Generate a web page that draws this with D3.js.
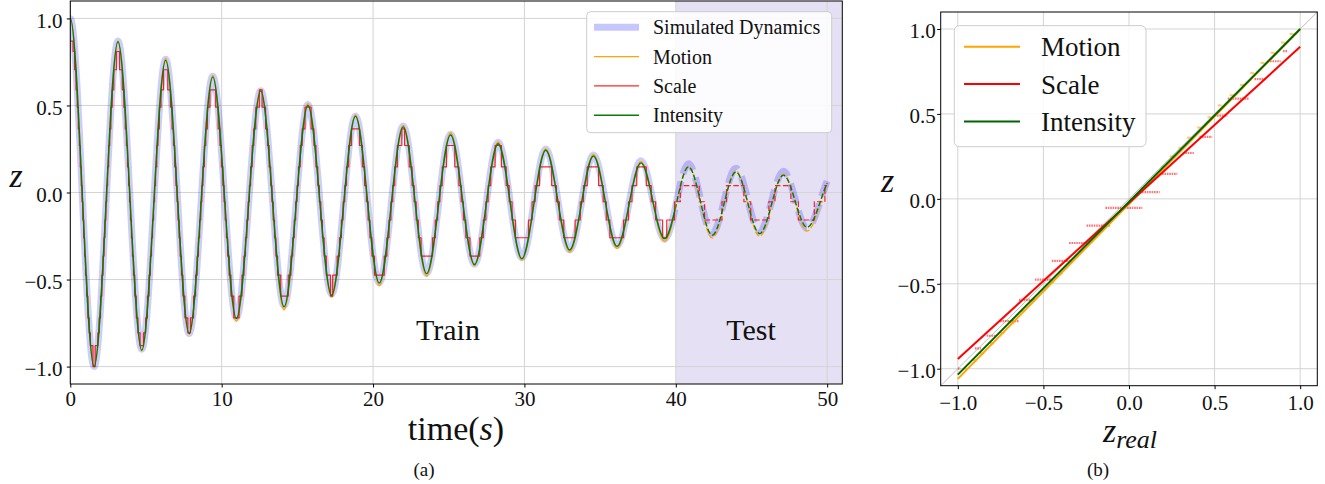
<!DOCTYPE html>
<html>
<head>
<meta charset="utf-8">
<script src="https://cdn.jsdelivr.net/npm/d3@7"></script>
<style>
  body { margin: 0; background: #fff; }
  text { font-family: "Liberation Serif", "DejaVu Serif", serif; fill: #111; }
</style>
</head>
<body>
<script>
// ---------------- DATA ----------------
// Panel (a): extrema times (s) of the oscillation, plus the final sample
const extremaTimes = [0, 1.57, 3.15, 4.72, 6.3, 7.85, 9.41, 10.97, 12.58, 14.12, 15.7, 17.26, 18.84, 20.41, 21.99, 23.54,
  25.12, 26.7, 28.26, 29.83, 31.41, 32.99, 34.56, 36.12, 37.7, 39.26, 40.84, 42.41, 43.97, 45.54, 47.11, 48.67, 50.0];
const simulatedVals = [1.0, -1.0, 0.87, -0.9, 0.765, -0.81, 0.668, -0.72, 0.585, -0.65, 0.505, -0.585, 0.44, -0.52, 0.382, -0.465,
  0.335, -0.412, 0.288, -0.375, 0.25, -0.33, 0.215, -0.305, 0.182, -0.27, 0.165, -0.235, 0.14, -0.225, 0.122, -0.205, 0.065];
const motionVals = [1.0, -1.0, 0.87, -0.91, 0.77, -0.815, 0.672, -0.74, 0.59, -0.675, 0.51, -0.6, 0.445, -0.535, 0.385, -0.48,
  0.342, -0.42, 0.29, -0.388, 0.25, -0.342, 0.218, -0.322, 0.178, -0.28, 0.15, -0.262, 0.125, -0.252, 0.105, -0.222, 0.05];
const intensityVals = [1.0, -1.0, 0.866, -0.906, 0.76, -0.81, 0.664, -0.724, 0.584, -0.657, 0.5, -0.59, 0.438, -0.52, 0.377, -0.466,
  0.33, -0.414, 0.28, -0.38, 0.243, -0.33, 0.21, -0.31, 0.17, -0.265, 0.147, -0.245, 0.118, -0.236, 0.1, -0.2, 0.055];
// Scale estimate: step function [time, level]
const scaleSteps = [
 [0,0.87],[0.18,0.81],[0.28,0.705],[0.377,0.59],[0.457,0.49],[0.529,0.365],[0.595,0.27],[0.658,0.147],[0.721,0.04],[0.775,-0.053],[0.829,-0.158],[0.885,-0.26],[0.943,-0.365],[1.005,-0.475],[1.077,-0.595],[1.162,-0.72],[1.247,-0.806],[1.328,-0.88],[1.496,-1.0],
 [1.646,-0.88],[1.823,-0.806],[1.905,-0.72],[1.997,-0.595],[2.085,-0.475],[2.161,-0.365],[2.227,-0.26],[2.289,-0.158],[2.349,-0.053],[2.407,0.04],[2.466,0.147],[2.535,0.27],[2.606,0.365],[2.682,0.49],[2.771,0.59],[2.874,0.705],[3.046,0.81],
 [3.257,0.705],[3.433,0.59],[3.538,0.49],[3.629,0.365],[3.707,0.27],[3.778,0.147],[3.85,0.04],[3.913,-0.053],[3.973,-0.158],[4.036,-0.26],[4.101,-0.365],[4.172,-0.475],[4.26,-0.595],[4.359,-0.72],[4.47,-0.806],[4.61,-0.88],
 [4.835,-0.806],[4.979,-0.72],[5.094,-0.595],[5.202,-0.475],[5.289,-0.365],[5.365,-0.26],[5.434,-0.158],[5.502,-0.053],[5.566,0.04],[5.633,0.147],[5.712,0.27],[5.793,0.365],[5.884,0.49],[5.993,0.59],[6.158,0.705],
 [6.441,0.59],[6.612,0.49],[6.722,0.365],[6.815,0.27],[6.897,0.147],[6.977,0.04],[7.047,-0.053],[7.114,-0.158],[7.185,-0.26],[7.259,-0.365],[7.342,-0.475],[7.438,-0.595],[7.568,-0.72],[7.765,-0.806],
 [7.939,-0.72],[8.145,-0.595],[8.279,-0.475],[8.38,-0.365],[8.466,-0.26],[8.544,-0.158],[8.621,-0.053],[8.692,0.04],[8.767,0.147],[8.856,0.27],[8.95,0.365],[9.062,0.49],[9.221,0.59],
 [9.605,0.49],[9.767,0.365],[9.884,0.27],[9.983,0.147],[10.076,0.04],[10.154,-0.053],[10.231,-0.158],[10.312,-0.26],[10.396,-0.365],[10.493,-0.475],[10.613,-0.595],[10.8,-0.72],
 [11.149,-0.595],[11.342,-0.475],[11.472,-0.365],[11.572,-0.26],[11.662,-0.158],[11.748,-0.053],[11.83,0.04],[11.913,0.147],[12.015,0.27],[12.123,0.365],[12.253,0.49],[12.488,0.59],
 [12.671,0.49],[12.902,0.365],[13.03,0.27],[13.136,0.147],[13.238,0.04],[13.321,-0.053],[13.402,-0.158],[13.49,-0.26],[13.583,-0.365],[13.692,-0.475],[13.9,-0.595],
 [14.4,-0.475],[14.577,-0.365],[14.694,-0.26],[14.793,-0.158],[14.888,-0.053],[14.98,0.04],[15.073,0.147],[15.19,0.27],[15.318,0.365],[15.503,0.49],
 [15.909,0.365],[16.096,0.27],[16.229,0.147],[16.352,0.04],[16.452,-0.053],[16.55,-0.158],[16.655,-0.26],[16.77,-0.365],[16.912,-0.475],[17.19,-0.595],
 [17.334,-0.475],[17.63,-0.365],[17.783,-0.26],[17.908,-0.158],[18.022,-0.053],[18.131,0.04],[18.244,0.147],[18.391,0.27],[18.576,0.365],
 [19.108,0.27],[19.295,0.147],[19.444,0.04],[19.562,-0.053],[19.674,-0.158],[19.793,-0.26],[19.925,-0.365],[20.094,-0.475],
 [20.74,-0.365],[20.916,-0.26],[21.055,-0.158],[21.183,-0.053],[21.303,0.04],[21.432,0.147],[21.606,0.27],[21.902,0.365],
 [22.083,0.27],[22.393,0.147],[22.577,0.04],[22.715,-0.053],[22.85,-0.158],[22.994,-0.26],[23.173,-0.365],
 [23.927,-0.26],[24.114,-0.158],[24.27,-0.053],[24.417,0.04],[24.57,0.147],[24.85,0.27],
 [25.4,0.147],[25.67,0.04],[25.825,-0.053],[25.97,-0.158],[26.128,-0.26],[26.4,-0.365],
 [27.05,-0.26],[27.287,-0.158],[27.452,-0.053],[27.606,0.04],[27.776,0.147],[28.062,0.27],
 [28.481,0.147],[28.797,0.04],[28.995,-0.053],[29.183,-0.158],[29.405,-0.26],
 [30.272,-0.158],[30.508,-0.053],[30.708,0.04],[31.0,0.147],
 [31.8,0.04],[32.112,-0.053],[32.312,-0.158],[32.6,-0.26],
 [33.35,-0.158],[33.69,-0.053],[33.902,0.04],[34.147,0.147],
 [34.9,0.04],[35.204,-0.053],[35.41,-0.158],[35.643,-0.26],
 [36.55,-0.158],[36.875,-0.053],[37.104,0.04],[37.42,0.147],
 [38.05,0.04],[38.379,-0.053],[38.667,-0.158],[39.129,-0.26],
 [39.402,-0.158],[39.913,-0.053],[40.3,0.04],
 [41.55,-0.053],[41.9,-0.158],
 [43.05,-0.053],[43.35,0.04],
 [44.5,-0.053],[44.95,-0.158],
 [46.15,-0.053],[46.55,0.04],
 [47.6,-0.053],[48.1,-0.158],
 [49.15,-0.053],[49.85,0.04],[50.0,0.04]
];
const trainEnd = 40;          // start of the test window
const xTicksA = [0, 10, 20, 30, 40, 50];
const yTicksA = [-1.0, -0.5, 0.0, 0.5, 1.0];

// Panel (b): scale scatter clusters (level, z_real min, z_real max)
const scaleLevelsB = [0.87, 0.81, 0.705, 0.59, 0.49, 0.365, 0.27, 0.147, 0.04, -0.053, -0.158, -0.26, -0.365, -0.475, -0.595, -0.72, -0.806, -0.88, -1.0];
const scaleRealMin = [0.9, 0.81, 0.733, 0.577, 0.5, 0.412, 0.315, 0.179, 0.062, -0.138, -0.248, -0.35, -0.451, -0.55, -0.643, -0.753, -0.832, -0.9, -1.0];
const scaleRealMax = [0.92, 0.88, 0.791, 0.694, 0.568, 0.48, 0.373, 0.276, 0.173, 0.072, -0.113, -0.229, -0.346, -0.453, -0.55, -0.647, -0.783, -0.871, -0.99];
// Motion scatter points [z_real, z]
const motionPoints = [[-0.96,-1.0],[-0.9,-0.95],[-0.86,-0.91],[-0.8,-0.85],[-0.74,-0.79],[-0.68,-0.73],[-0.62,-0.66],[-0.56,-0.6],
  [-0.5,-0.54],[-0.45,-0.49],[-0.4,-0.44],[-0.34,-0.37],[-0.28,-0.31],[-0.22,-0.25],[-0.16,-0.19],[-0.1,-0.12],[-0.04,-0.06],
  [0.02,0.0],[0.08,0.06],[0.14,0.12],[0.2,0.19],[0.25,0.25],[0.3,0.3],[0.35,0.36],[0.41,0.42],[0.47,0.48],[0.53,0.55],
  [0.6,0.61],[0.66,0.67],[0.72,0.74],[0.78,0.8],[0.84,0.86],[0.9,0.92],[0.95,0.97]];
// Linear fits [z_real, z] end points
const fitMotion = [[-1, -1.06], [1, 1.0]];
const fitScale = [[-1, -0.943], [1, 0.895]];
const fitIntensity = [[-1, -1.035], [1, 1.0]];
const identityExtent = [-1.1, 1.1];
const ticksB = [-1.0, -0.5, 0.0, 0.5, 1.0];

// ---------------- helpers ----------------
// smooth curve with flat tangents at every sample (end point uses the secant)
function curveFlat(context) {
  let pts = [];
  return {
    areaStart() {}, areaEnd() {},
    lineStart() { pts = []; },
    point(x, y) { pts.push([+x, +y]); },
    lineEnd() {
      const n = pts.length; if (!n) return;
      context.moveTo(pts[0][0], pts[0][1]);
      for (let i = 1; i < n; i++) {
        const [x0, y0] = pts[i - 1], [x1, y1] = pts[i];
        const dx = (x1 - x0) / 3;
        const m1 = (i === n - 1) ? (y1 - y0) / (x1 - x0) : 0;
        context.bezierCurveTo(x0 + dx, y0, x1 - dx, y1 - m1 * dx, x1, y1);
      }
    }
  };
}
const fmt = d3.format(".1f");
const svg = d3.select("body").append("svg").attr("width", 1325).attr("height", 484);
const defs = svg.append("defs");

// ---------------- Panel (a) ----------------
const xA = d3.scaleLinear().domain([0, 51]).range([70.3, 842.3]);
const yA = d3.scaleLinear().domain([-1.1, 1.1]).range([384, 1]);
const gA = svg.append("g");

gA.append("rect").attr("x", xA(trainEnd)).attr("y", yA(1.1)).attr("width", xA(51) - xA(trainEnd))
  .attr("height", yA(-1.1) - yA(1.1)).attr("fill", "#e6e0f4");

gA.selectAll(".gx").data(xTicksA).join("line").attr("x1", d => xA(d)).attr("x2", d => xA(d))
  .attr("y1", yA(1.1)).attr("y2", yA(-1.1)).attr("stroke", "#d4d4d4").attr("stroke-width", 1);
gA.selectAll(".gy").data(yTicksA).join("line").attr("y1", d => yA(d)).attr("y2", d => yA(d))
  .attr("x1", xA(0)).attr("x2", xA(51)).attr("stroke", "#d4d4d4").attr("stroke-width", 1);

defs.append("clipPath").attr("id", "clipTrain").append("rect")
  .attr("x", xA(0)).attr("y", yA(1.1)).attr("width", xA(trainEnd) - xA(0)).attr("height", yA(-1.1) - yA(1.1));
defs.append("clipPath").attr("id", "clipTest").append("rect")
  .attr("x", xA(trainEnd)).attr("y", yA(1.1)).attr("width", xA(51) - xA(trainEnd)).attr("height", yA(-1.1) - yA(1.1));

const smooth = d3.line().x(d => xA(d[0])).y(d => yA(d[1])).curve(curveFlat);
const stepLine = d3.line().x(d => xA(d[0])).y(d => yA(d[1])).curve(d3.curveStepAfter);
const pairs = vals => extremaTimes.map((t, i) => [t, vals[i]]);

const series = [
  { d: smooth(pairs(simulatedVals)), color: "#0000ff", op: 0.2, w: 7, dash: "20,8" },
  { d: smooth(pairs(motionVals)), color: "#ffa500", op: 1, w: 1.4, dash: "5.5,2.4" },
  { d: stepLine(scaleSteps), color: "#ff0000", op: 0.85, w: 1.2, dash: "5.5,2.4" },
  { d: smooth(pairs(intensityVals)), color: "#0a7a0a", op: 1, w: 1.4, dash: "5.5,2.4" }
];
const gTrain = gA.append("g").attr("clip-path", "url(#clipTrain)");
const gTest = gA.append("g").attr("clip-path", "url(#clipTest)");
series.forEach(s => {
  gTrain.append("path").attr("d", s.d).attr("fill", "none").attr("stroke", s.color)
    .attr("stroke-opacity", s.op).attr("stroke-width", s.w).attr("stroke-linejoin", "round");
  gTest.append("path").attr("d", s.d).attr("fill", "none").attr("stroke", s.color)
    .attr("stroke-opacity", s.op).attr("stroke-width", s.w).attr("stroke-dasharray", s.dash);
});

// frame + axes
gA.append("rect").attr("x", xA(0)).attr("y", yA(1.1)).attr("width", xA(51) - xA(0)).attr("height", yA(-1.1) - yA(1.1))
  .attr("fill", "none").attr("stroke", "#000").attr("stroke-width", 1);
const axA_x = gA.append("g").attr("transform", `translate(0,${yA(-1.1)})`)
  .call(d3.axisBottom(xA).tickValues(xTicksA).tickFormat(d3.format("d")).tickSize(3.5).tickPadding(3.6));
const axA_y = gA.append("g").attr("transform", `translate(${xA(0)},0)`)
  .call(d3.axisLeft(yA).tickValues(yTicksA).tickFormat(fmt).tickSize(3.5).tickPadding(4.3));
[axA_x, axA_y].forEach(a => { a.select(".domain").remove(); a.selectAll("text").style("font-size", "21px").attr("fill", "#111"); });
axA_y.selectAll("text").attr("dy", "0.42em");

gA.append("text").attr("x", 16).attr("y", 187).attr("text-anchor", "middle")
  .style("font-size", "34px").style("font-style", "italic").text("z");
const tl = gA.append("text").attr("x", 456).attr("y", 440).attr("text-anchor", "middle").style("font-size", "34px");
tl.append("tspan").text("time(");
tl.append("tspan").style("font-style", "italic").text("s");
tl.append("tspan").text(")");
gA.append("text").attr("x", 448).attr("y", 340).attr("text-anchor", "middle").style("font-size", "30px").text("Train");
gA.append("text").attr("x", 751).attr("y", 340).attr("text-anchor", "middle").style("font-size", "30px").text("Test");
svg.append("text").attr("x", 424).attr("y", 476).attr("text-anchor", "middle").style("font-size", "19px").text("(a)");

// legend (a)
const legA = gA.append("g");
legA.append("rect").attr("x", 586.7).attr("y", 11.7).attr("width", 245).attr("height", 121).attr("rx", 4)
  .attr("fill", "#fff").attr("fill-opacity", 0.85).attr("stroke", "#cccccc");
const legAItems = [
  { name: "Simulated Dynamics", color: "#0000ff", op: 0.22, w: 7 },
  { name: "Motion", color: "#ffa500", op: 1, w: 1.4 },
  { name: "Scale", color: "#ff0000", op: 0.85, w: 1.4 },
  { name: "Intensity", color: "#0a7a0a", op: 1, w: 1.4 }
];
legAItems.forEach((it, i) => {
  const yy = 27.3 + i * 29.3;
  legA.append("line").attr("x1", 594).attr("x2", 639).attr("y1", yy).attr("y2", yy)
    .attr("stroke", it.color).attr("stroke-opacity", it.op).attr("stroke-width", it.w);
  legA.append("text").attr("x", 653).attr("y", yy + 7).style("font-size", "20px").text(it.name);
});

// ---------------- Panel (b) ----------------
const xB = d3.scaleLinear().domain([-1.1, 1.1]).range([940.7, 1317.3]);
const yB = d3.scaleLinear().domain([-1.1, 1.1]).range([385.7, 12]);
const gB = svg.append("g");
gB.selectAll(".gx").data(ticksB).join("line").attr("x1", d => xB(d)).attr("x2", d => xB(d))
  .attr("y1", yB(1.1)).attr("y2", yB(-1.1)).attr("stroke", "#d4d4d4");
gB.selectAll(".gy").data(ticksB).join("line").attr("y1", d => yB(d)).attr("y2", d => yB(d))
  .attr("x1", xB(-1.1)).attr("x2", xB(1.1)).attr("stroke", "#d4d4d4");
gB.append("line").attr("x1", xB(identityExtent[0])).attr("y1", yB(identityExtent[0]))
  .attr("x2", xB(identityExtent[1])).attr("y2", yB(identityExtent[1])).attr("stroke", "#bdbdbd").attr("stroke-width", 1);

// scatter
gB.selectAll(".sc").data(scaleLevelsB).join("line")
  .attr("x1", (d, i) => xB(scaleRealMin[i])).attr("x2", (d, i) => xB(scaleRealMax[i]) + 1)
  .attr("y1", d => yB(d)).attr("y2", d => yB(d))
  .attr("stroke", "#ff0000").attr("stroke-opacity", 0.55).attr("stroke-width", 2.2).attr("stroke-dasharray", "1.6,0.8");
gB.selectAll(".mp").data(motionPoints).join("line")
  .attr("x1", d => xB(d[0]) - 2).attr("x2", d => xB(d[0]) + 2)
  .attr("y1", d => yB(d[1])).attr("y2", d => yB(d[1]))
  .attr("stroke", "#ffa500").attr("stroke-opacity", 0.6).attr("stroke-width", 2);

const fitLine = d3.line().x(d => xB(d[0])).y(d => yB(d[1]));
[[fitMotion, "#ffa500"], [fitScale, "#ff0000"], [fitIntensity, "#006400"]].forEach(([f, c]) => {
  gB.append("path").attr("d", fitLine(f)).attr("fill", "none").attr("stroke", c).attr("stroke-width", 2);
});

gB.append("rect").attr("x", xB(-1.1)).attr("y", yB(1.1)).attr("width", xB(1.1) - xB(-1.1)).attr("height", yB(-1.1) - yB(1.1))
  .attr("fill", "none").attr("stroke", "#000").attr("stroke-width", 1);
const axB_x = gB.append("g").attr("transform", `translate(0,${yB(-1.1)})`)
  .call(d3.axisBottom(xB).tickValues(ticksB).tickFormat(fmt).tickSize(3.5).tickPadding(5.6));
const axB_y = gB.append("g").attr("transform", `translate(${xB(-1.1)},0)`)
  .call(d3.axisLeft(yB).tickValues(ticksB).tickFormat(fmt).tickSize(3.5).tickPadding(1.5));
[axB_x, axB_y].forEach(a => { a.select(".domain").remove(); a.selectAll("text").style("font-size", "21px").attr("fill", "#111"); });
axB_y.selectAll("text").attr("dy", "0.4em");

gB.append("text").attr("x", 887.5).attr("y", 191.5).attr("text-anchor", "middle")
  .style("font-size", "34px").style("font-style", "italic").text("z");
const xl = gB.append("text").attr("x", 1130).attr("y", 441.7).attr("text-anchor", "middle").style("font-style", "italic");
xl.append("tspan").style("font-size", "34px").text("z");
xl.append("tspan").style("font-size", "26px").attr("dy", 6).text("real");
svg.append("text").attr("x", 1098).attr("y", 476).attr("text-anchor", "middle").style("font-size", "19px").text("(b)");

// legend (b)
const legB = gB.append("g");
legB.append("rect").attr("x", 954.3).attr("y", 25.7).attr("width", 191.7).attr("height", 121).attr("rx", 5)
  .attr("fill", "#fff").attr("fill-opacity", 0.85).attr("stroke", "#cccccc");
[["Motion", "#ffa500"], ["Scale", "#ff0000"], ["Intensity", "#006400"]].forEach(([n, c], i) => {
  const yy = 46.7 + i * 37.4;
  legB.append("line").attr("x1", 964).attr("x2", 1020).attr("y1", yy).attr("y2", yy).attr("stroke", c).attr("stroke-width", 2);
  legB.append("text").attr("x", 1041).attr("y", yy + 9.5).style("font-size", "27px").text(n);
});
</script>
</body>
</html>
